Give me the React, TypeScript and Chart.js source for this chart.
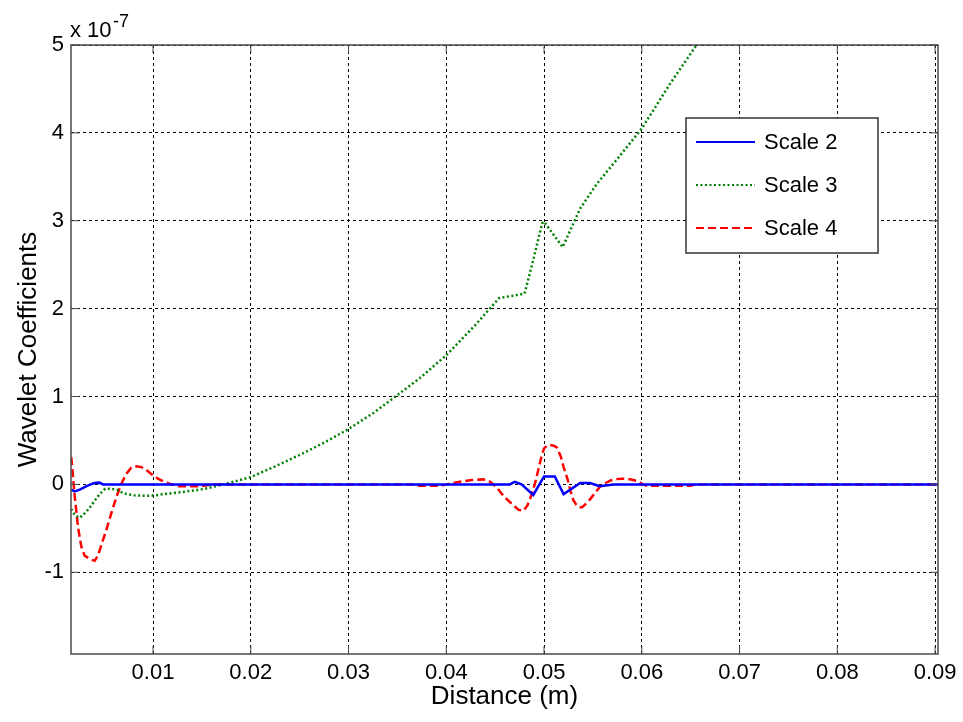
import React, { useEffect, useRef } from 'react';
import { Chart, registerables } from 'chart.js';

Chart.register(...registerables);

// ---- Data (values in units of 1e-7) ----
const scale2X = [0.00164, 0.0020, 0.0025, 0.0030, 0.0035, 0.0040, 0.0045, 0.0049, 0.0465, 0.0470, 0.0477, 0.0489, 0.0500, 0.0511, 0.0520, 0.0537, 0.0547, 0.0557, 0.0571, 0.0903];
const scale2Y = [-0.06, -0.08, -0.06, -0.03, -0.005, 0.015, 0.02, 0.0, 0.0, 0.03, 0.0, -0.12, 0.09, 0.09, -0.11, 0.015, 0.015, -0.02, 0.0, 0.0];

const scale3X = [0.00164, 0.0020, 0.0025, 0.0030, 0.0035, 0.0040, 0.00455, 0.0051, 0.0056, 0.0063, 0.0068, 0.0073, 0.0081, 0.0092, 0.0102, 0.0115, 0.0129, 0.0143, 0.0153, 0.0172, 0.0200, 0.0224, 0.0249, 0.0276, 0.0300, 0.0325, 0.0348, 0.0373, 0.0400, 0.0431, 0.0454, 0.0480, 0.0488, 0.0498, 0.0500, 0.0519, 0.0537, 0.0554, 0.0574, 0.0600, 0.0629, 0.0656];
const scale3Y = [-0.28, -0.35, -0.38, -0.33, -0.27, -0.19, -0.11, -0.05, -0.05, -0.06, -0.09, -0.11, -0.125, -0.13, -0.125, -0.105, -0.088, -0.068, -0.05, 0.0, 0.083, 0.20, 0.33, 0.48, 0.63, 0.81, 1.0, 1.21, 1.47, 1.83, 2.12, 2.17, 2.51, 2.97, 2.99, 2.70, 3.14, 3.42, 3.69, 4.05, 4.56, 5.0];

const scale4X = [0.00164, 0.0020, 0.00233, 0.00267, 0.0030, 0.00352, 0.00403, 0.00437, 0.00471, 0.00522, 0.00573, 0.00625, 0.00676, 0.00727, 0.00778, 0.0083, 0.0088, 0.0093, 0.0098, 0.0105, 0.0112, 0.0119, 0.0126, 0.0150, 0.0160, 0.0365, 0.0370, 0.0395, 0.0400, 0.0414, 0.0426, 0.0438, 0.0445, 0.0452, 0.0460, 0.0469, 0.0474, 0.0479, 0.0483, 0.0487, 0.0491, 0.0494, 0.0497, 0.0500, 0.0503, 0.0506, 0.0510, 0.0513, 0.0517, 0.0520, 0.0524, 0.0527, 0.0530, 0.0533, 0.0536, 0.0539, 0.0543, 0.0547, 0.0552, 0.0557, 0.0562, 0.0568, 0.0574, 0.0580, 0.0588, 0.0595, 0.0600, 0.0605, 0.0650, 0.0655, 0.0903];
const scale4Y = [0.31, -0.145, -0.49, -0.71, -0.81, -0.85, -0.87, -0.81, -0.69, -0.52, -0.33, -0.145, 0.008, 0.12, 0.19, 0.205, 0.197, 0.167, 0.12, 0.065, 0.026, 0.0, -0.02, -0.02, 0.0, 0.0, -0.015, -0.015, 0.0, 0.03, 0.05, 0.057, 0.03, -0.04, -0.15, -0.24, -0.29, -0.30, -0.24, -0.125, 0.02, 0.16, 0.30, 0.41, 0.44, 0.45, 0.44, 0.42, 0.32, 0.20, 0.06, -0.07, -0.18, -0.23, -0.26, -0.26, -0.22, -0.17, -0.10, -0.03, 0.01, 0.045, 0.06, 0.065, 0.058, 0.04, 0.01, -0.015, -0.015, 0.0, 0.0];

const seriesNames = ['Scale 2', 'Scale 3', 'Scale 4'];
const xTicks = [0.01, 0.02, 0.03, 0.04, 0.05, 0.06, 0.07, 0.08, 0.09];
const yTicks = [-1, 0, 1, 2, 3, 4, 5];
const xLimits = [0.00161, 0.0903];
const yLimits = [-1.93, 5];
const xTitle = 'Distance (m)';
const yTitle = 'Wavelet Coefficients';
const exponentText = ['x 10', '-7'];

const FONT = "'Liberation Sans', Arial, sans-serif";
const AXIS_COLOR = '#4a4a4a';
const COLORS = ['#0000ff', '#008000', '#ff0000'];
const DASHES: number[][] = [[], [2, 2.5], [8, 4]];
const WIDTHS = [2.5, 2.5, 2.5];

const toPoints = (xs: number[], ys: number[]) => xs.map((x, i) => ({ x, y: ys[i] }));

const matlabPlugin = {
  id: 'matlabDecor',
  afterDraw(chart: any) {
    const { ctx, chartArea: ca, scales } = chart;
    ctx.save();
    // box
    ctx.setLineDash([]);
    ctx.strokeStyle = AXIS_COLOR;
    ctx.lineWidth = 1.5;
    ctx.strokeRect(ca.left, ca.top, ca.right - ca.left, ca.bottom - ca.top);
    // inward ticks
    const tl = 8;
    ctx.beginPath();
    xTicks.forEach((v) => {
      const px = scales.x.getPixelForValue(v);
      ctx.moveTo(px, ca.bottom); ctx.lineTo(px, ca.bottom - tl);
      ctx.moveTo(px, ca.top); ctx.lineTo(px, ca.top + tl);
    });
    yTicks.forEach((v) => {
      const py = scales.y.getPixelForValue(v);
      ctx.moveTo(ca.left, py); ctx.lineTo(ca.left + tl, py);
      ctx.moveTo(ca.right, py); ctx.lineTo(ca.right - tl, py);
    });
    ctx.lineWidth = 1;
    ctx.stroke();

    // legend
    const lx = 686, ly = 118, lw = 192, lh = 135;
    ctx.fillStyle = '#fff';
    ctx.fillRect(lx, ly, lw, lh);
    ctx.strokeStyle = '#333';
    ctx.lineWidth = 1.5;
    ctx.strokeRect(lx, ly, lw, lh);
    const rows = [142, 185, 228];
    seriesNames.forEach((name, i) => {
      ctx.save();
      ctx.strokeStyle = COLORS[i];
      ctx.lineWidth = 2;
      ctx.setLineDash(DASHES[i]);
      ctx.beginPath();
      ctx.moveTo(696, rows[i]);
      ctx.lineTo(755, rows[i]);
      ctx.stroke();
      ctx.restore();
      ctx.fillStyle = '#000';
      ctx.font = `22px ${FONT}`;
      ctx.textAlign = 'left';
      ctx.textBaseline = 'middle';
      ctx.fillText(name, 764, rows[i] + 1);
    });

    // titles
    ctx.fillStyle = '#000';
    ctx.font = `26px ${FONT}`;
    ctx.textAlign = 'center';
    ctx.textBaseline = 'alphabetic';
    ctx.fillText(xTitle, (ca.left + ca.right) / 2, 704);

    ctx.save();
    ctx.translate(36, (ca.top + ca.bottom) / 2);
    ctx.rotate(-Math.PI / 2);
    ctx.textAlign = 'center';
    ctx.textBaseline = 'alphabetic';
    ctx.fillText(yTitle, 0, 0);
    ctx.restore();

    // exponent
    ctx.textAlign = 'left';
    ctx.font = `22px ${FONT}`;
    ctx.fillText(exponentText[0], 70, 37);
    ctx.font = `18px ${FONT}`;
    ctx.fillText(exponentText[1], 113, 27);
    ctx.restore();
  },
};

export default function App() {
  const ref = useRef<HTMLCanvasElement | null>(null);
  useEffect(() => {
    if (!ref.current) return;
    const xs = [scale2X, scale3X, scale4X];
    const ys = [scale2Y, scale3Y, scale4Y];
    const chart = new Chart(ref.current, {
      type: 'line',
      data: {
        datasets: seriesNames.map((name, i) => ({
          label: name,
          data: toPoints(xs[i], ys[i]),
          borderColor: COLORS[i],
          backgroundColor: COLORS[i],
          borderWidth: WIDTHS[i],
          borderDash: DASHES[i],
          pointRadius: 0,
          tension: 0,
          fill: false,
        })),
      },
      options: {
        responsive: false,
        animation: false,
        layout: { padding: { left: 0, top: 45, right: 25, bottom: 0 } },
        plugins: { legend: { display: false }, tooltip: { enabled: false } },
        scales: {
          x: {
            type: 'linear',
            min: xLimits[0],
            max: xLimits[1],
            afterFit: (s: any) => { s.height = 68; },
            afterBuildTicks: (s: any) => { s.ticks = xTicks.map((v) => ({ value: v })); },
            grid: { color: '#000', lineWidth: 1, drawTicks: false },
            border: { display: false, dash: [3, 3] },
            ticks: {
              autoSkip: false,
              maxRotation: 0,
              padding: 6,
              color: '#000',
              font: { family: FONT, size: 22 },
              callback: (v: any) => Number(v).toFixed(2),
            },
          },
          y: {
            type: 'linear',
            min: yLimits[0],
            max: yLimits[1],
            afterFit: (s: any) => { s.width = 71; },
            afterBuildTicks: (s: any) => { s.ticks = yTicks.map((v) => ({ value: v })); },
            grid: { color: '#000', lineWidth: 1, drawTicks: false },
            border: { display: false, dash: [3, 3] },
            ticks: {
              padding: 7,
              color: '#000',
              font: { family: FONT, size: 22 },
              callback: (v: any) => String(v),
            },
          },
        },
      },
      plugins: [matlabPlugin],
    });
    return () => chart.destroy();
  }, []);
  return (
    <div style={{ position: 'absolute', left: 0, top: 0, width: 963, height: 722, background: '#fff' }}>
      <canvas ref={ref} width={963} height={722} />
    </div>
  );
}
